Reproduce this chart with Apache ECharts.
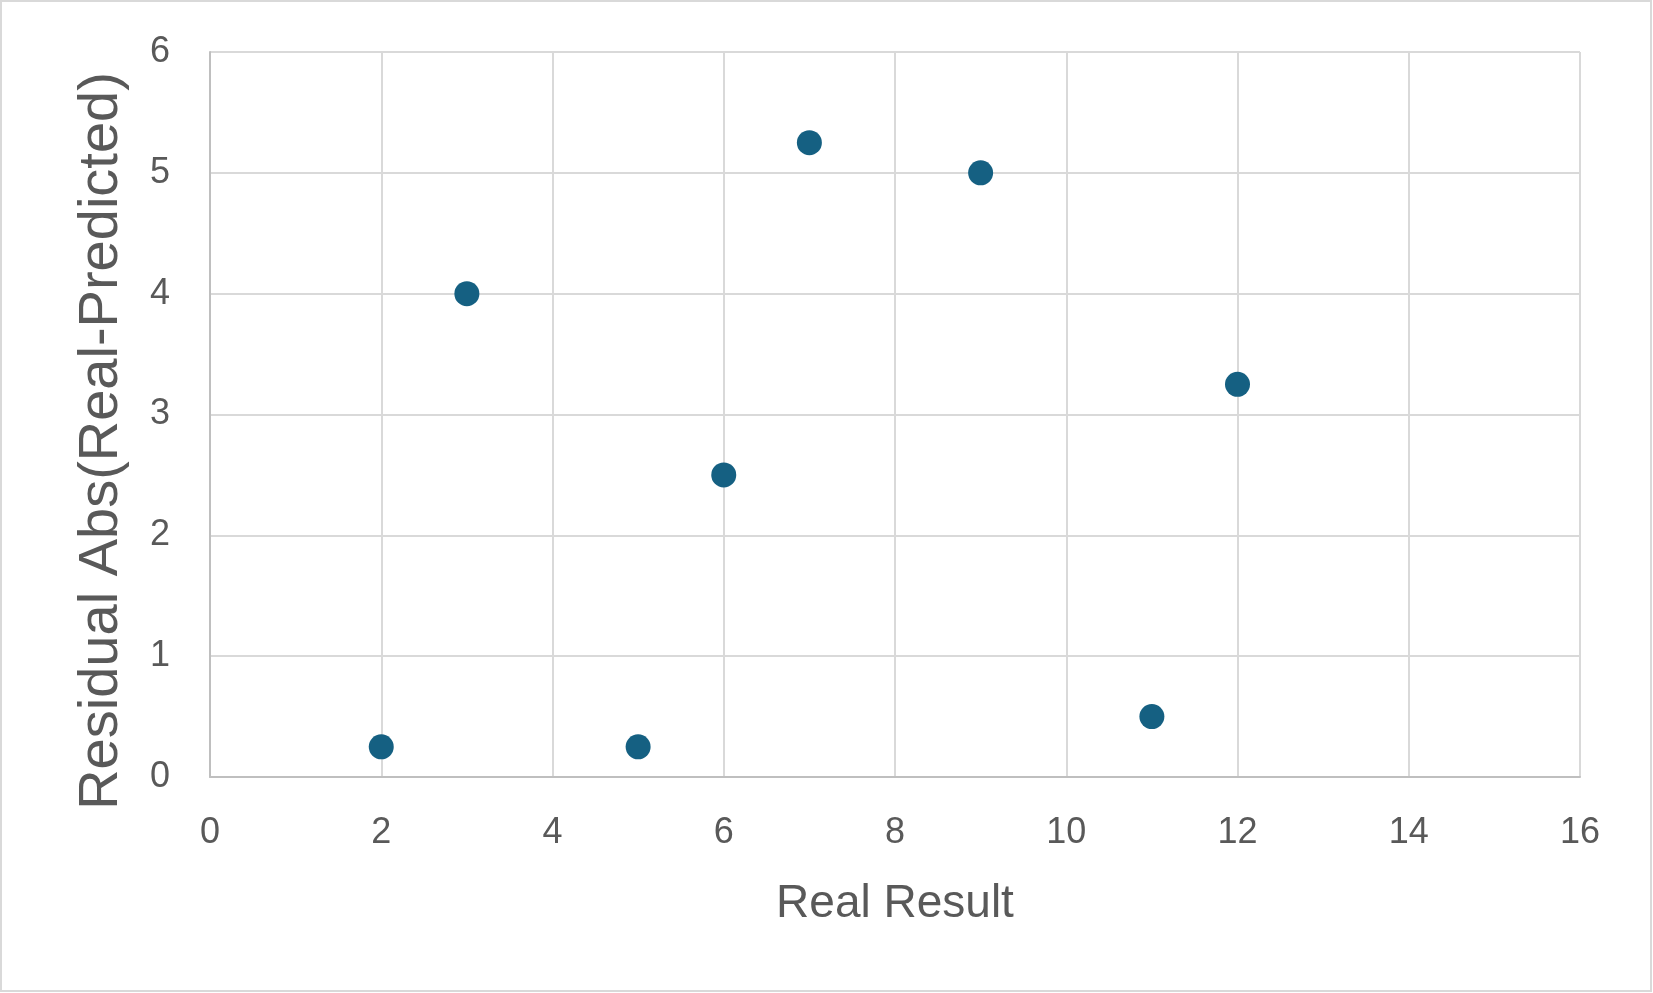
<!DOCTYPE html>
<html>
<head>
<meta charset="utf-8">
<script src="https://cdn.jsdelivr.net/npm/echarts@6/dist/echarts.min.js"></script>
<style>
html,body{margin:0;padding:0;background:#fff;}
#chart{width:1653px;height:993px;}
</style>
</head>
<body>
<div id="chart"></div>
<script>
const realResult = [2, 3, 5, 6, 7, 9, 11, 12];
const residualAbs = [0.25, 4, 0.25, 2.5, 5.25, 5, 0.5, 3.25];
const xTitle = 'Real Result';
const yTitle = 'Residual Abs(Real-Predicted)';

const FONT = '"Liberation Sans", Arial, sans-serif';
const TXT = '#595959';

const chart = echarts.init(document.getElementById('chart'), null, {renderer: 'canvas'});
chart.setOption({
  animation: false,
  backgroundColor: '#ffffff',
  grid: {left: 210, top: 52, width: 1370, height: 725, containLabel: false},
  xAxis: {
    type: 'value', min: 0, max: 16, interval: 2,
    axisLine: {show: true, onZero: false, lineStyle: {color: '#bfbfbf', width: 2}},
    axisTick: {show: false},
    axisLabel: {color: TXT, fontSize: 36, fontFamily: FONT, margin: 38},
    splitLine: {show: true, lineStyle: {color: '#d9d9d9', width: 2}}
  },
  yAxis: {
    type: 'value', min: 0, max: 6, interval: 1,
    axisLine: {show: true, onZero: false, lineStyle: {color: '#bfbfbf', width: 2}},
    axisTick: {show: false},
    axisLabel: {color: TXT, fontSize: 36, fontFamily: FONT, margin: 40},
    splitLine: {show: true, lineStyle: {color: '#d9d9d9', width: 2}}
  },
  series: [{
    type: 'scatter',
    data: realResult.map((x, i) => [x, residualAbs[i]]),
    symbol: 'circle',
    symbolSize: 25,
    itemStyle: {color: '#156082', opacity: 1}
  }],
  graphic: [
    {type: 'rect', shape: {x: 1, y: 1, width: 1650, height: 990},
     style: {fill: 'none', stroke: '#d9d9d9', lineWidth: 2}, silent: true},
    {type: 'text', x: 895, y: 904,
     style: {text: xTitle, fill: TXT, font: '46px ' + FONT, textAlign: 'center', textVerticalAlign: 'middle'}},
    {type: 'text', x: 102, y: 441, rotation: Math.PI / 2,
     style: {text: yTitle, fill: TXT, font: '56px ' + FONT, textAlign: 'center', textVerticalAlign: 'middle'}}
  ]
});
</script>
</body>
</html>
